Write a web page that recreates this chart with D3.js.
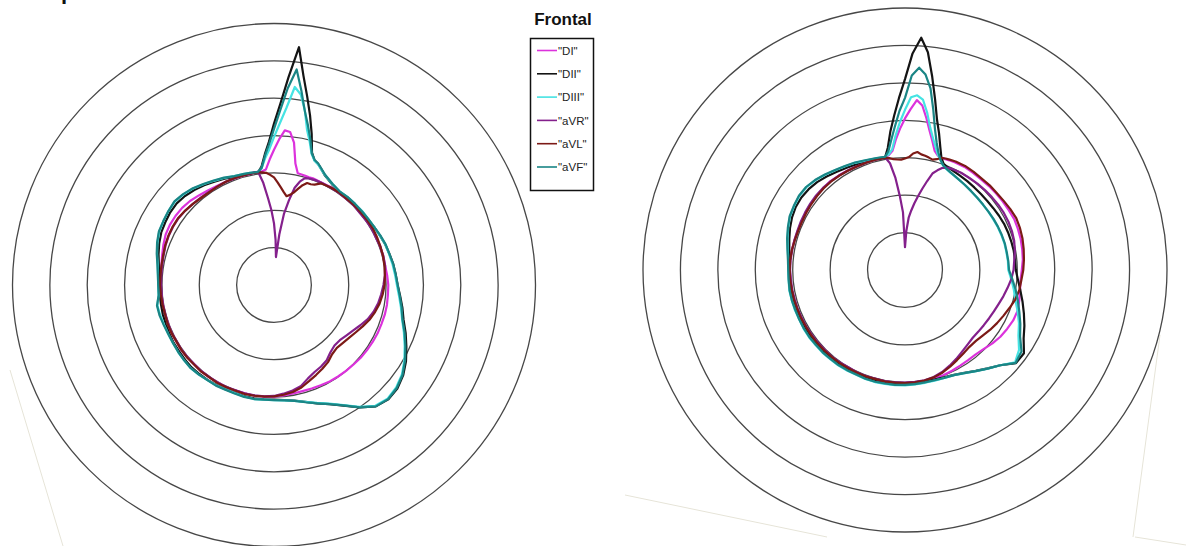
<!DOCTYPE html>
<html>
<head>
<meta charset="utf-8">
<script src="https://cdn.jsdelivr.net/npm/d3@7/dist/d3.min.js"></script>
<style>
  html, body { margin: 0; padding: 0; background: #fff; }
  svg { display: block; }
</style>
</head>
<body>
<svg id="chart" width="1186" height="546"></svg>
<script>
// ---------------- DATA ----------------
// angles in degrees, clockwise from 12 o'clock
const ANGLES = [0,2,4,6,8,10,12,14,16,18,20,22,25,
  30,35,40,45,50,55,60,65,70,75,80,85,90,
  95,100,105,110,115,120,125,130,135,140,145,150,155,160,165,170,175,180,
  185,190,195,200,205,210,215,220,225,230,235,240,245,250,255,260,265,270,
  275,280,285,290,295,300,305,310,315,320,325,330,335,340,345,
  348,350,352,354,356,358];

const RING_TICKS = [1,2,3,4,5,6,7];
const SERIES_NAMES = ['"DI"','"DII"','"DIII"','"aVR"','"aVL"','"aVF"'];
const LEGEND_TITLE = "Frontal";

// ---- left plot ----
const L_DI = [3.62,3.9,4.15,4.12,3.85,3.3,3.06,3.05,3.04,3.03,3.04,3.03,3.02,
  3.03,3.04,3.02,3.03,3.02,3.04,3.03,3.02,3.03,3.02,3.02,3.04,3.06,
  3.06,3.07,3.07,3.06,3.06,3.05,3.04,3.03,3.01,3.0,2.99,2.98,2.96,2.95,2.94,2.95,2.97,2.99,
  3.0,3.01,3.0,3.01,3.02,3.01,3.02,3.02,3.01,3.02,3.03,3.02,3.03,3.02,3.03,3.02,3.03,3.03,
  3.04,3.06,3.1,3.15,3.2,3.22,3.22,3.21,3.18,3.13,3.09,3.06,3.05,3.04,3.04,
  3.04,3.05,3.05,3.06,3.1,3.36];
const L_DII = [4.32,4.85,5.58,6.4,5.66,5.12,4.64,4.17,3.69,3.51,3.45,3.36,3.23,
  3.11,3.05,3.06,3.06,3.07,3.07,3.1,3.13,3.17,3.2,3.24,3.27,3.31,
  3.39,3.49,3.59,3.75,3.91,4.08,4.22,4.31,4.33,4.24,4.0,3.73,3.52,3.37,3.24,3.14,3.09,3.07,
  3.07,3.08,3.08,3.07,3.08,3.09,3.1,3.11,3.12,3.11,3.1,3.1,3.09,3.08,3.08,3.07,3.07,3.07,
  3.09,3.13,3.2,3.27,3.33,3.36,3.39,3.4,3.37,3.32,3.26,3.19,3.14,3.08,3.06,
  3.05,3.05,3.05,3.19,3.51,3.84];
const L_DIII = [3.96,4.32,4.75,5.33,5.15,4.75,4.25,3.95,3.65,3.5,3.44,3.35,3.24,
  3.12,3.06,3.07,3.07,3.08,3.08,3.1,3.13,3.17,3.19,3.22,3.25,3.29,
  3.36,3.45,3.55,3.7,3.86,4.03,4.18,4.27,4.3,4.22,3.98,3.71,3.5,3.36,3.24,3.15,3.1,3.08,
  3.08,3.1,3.09,3.08,3.08,3.1,3.11,3.13,3.15,3.14,3.13,3.12,3.12,3.13,3.15,3.17,3.1,3.1,
  3.12,3.16,3.24,3.32,3.39,3.42,3.45,3.47,3.43,3.37,3.29,3.22,3.16,3.1,3.08,
  3.07,3.06,3.06,3.15,3.4,3.63];
const L_aVR = [1.65,1.21,0.75,1.36,1.93,2.3,2.66,2.85,2.97,3.0,3.01,3.02,3.02,
  3.01,3.02,3.01,3.02,3.0,3.01,3.02,3.01,3.02,3.03,3.02,2.98,2.93,
  2.88,2.83,2.76,2.67,2.55,2.44,2.36,2.3,2.29,2.35,2.46,2.52,2.57,2.66,2.8,2.87,2.92,2.97,
  2.99,3.0,3.01,3.0,3.01,3.02,3.01,3.02,3.01,3.02,3.02,3.01,3.02,3.02,3.01,3.02,3.02,3.02,
  3.03,3.04,3.06,3.09,3.11,3.12,3.12,3.1,3.07,3.05,3.04,3.04,3.05,3.05,3.05,
  3.05,3.06,3.06,2.75,2.34,2.01];
const L_aVL = [2.88,2.75,2.62,2.5,2.4,2.45,2.53,2.65,2.78,2.87,2.87,2.9,3.0,
  3.02,3.03,3.02,3.03,3.03,3.04,3.05,3.04,3.03,3.02,3.0,2.98,2.96,
  2.92,2.87,2.8,2.72,2.62,2.53,2.46,2.41,2.38,2.42,2.52,2.59,2.66,2.74,2.84,2.91,2.95,2.98,
  3.0,3.01,3.02,3.01,3.02,3.03,3.02,3.03,3.02,3.03,3.03,3.02,3.03,3.03,3.02,3.03,3.04,3.05,
  3.05,3.06,3.07,3.1,3.12,3.13,3.13,3.1,3.07,3.04,3.03,3.04,3.05,3.05,3.04,
  3.05,3.05,3.05,3.03,3.01,2.95];
const L_aVF = [4.18,4.67,5.28,5.8,5.26,4.74,4.37,4.02,3.67,3.52,3.46,3.37,3.25,
  3.13,3.06,3.07,3.07,3.07,3.08,3.1,3.14,3.18,3.2,3.24,3.27,3.31,
  3.38,3.47,3.56,3.72,3.88,4.05,4.2,4.29,4.32,4.24,4.0,3.72,3.52,3.37,3.25,3.15,3.1,3.08,
  3.08,3.1,3.1,3.09,3.09,3.11,3.11,3.13,3.15,3.14,3.13,3.12,3.12,3.14,3.17,3.18,3.1,3.1,
  3.12,3.17,3.25,3.33,3.4,3.42,3.45,3.48,3.44,3.38,3.3,3.23,3.17,3.1,3.08,
  3.07,3.06,3.06,3.15,3.47,3.77];

// ---- right plot ----
const R_DI = [4.05,4.3,4.55,4.42,4.1,3.78,3.52,3.28,3.18,3.15,3.15,3.16,3.17,
  3.18,3.17,3.16,3.17,3.18,3.19,3.2,3.22,3.21,3.2,3.18,3.16,3.12,
  3.1,3.12,3.16,3.2,3.19,3.15,3.11,3.05,2.98,2.94,2.94,2.95,2.97,2.99,3.0,3.01,3.01,3.02,
  3.02,3.03,3.02,3.03,3.03,3.02,3.03,3.04,3.03,3.04,3.04,3.05,3.05,3.06,3.06,3.07,3.07,3.08,
  3.08,3.07,3.06,3.05,3.05,3.06,3.07,3.08,3.09,3.1,3.08,3.07,3.06,3.06,3.06,
  3.06,3.06,3.1,3.2,3.5,3.78];
const R_DII = [5.1,5.79,6.22,5.85,5.22,4.63,4.11,3.76,3.42,3.15,3.02,2.98,2.95,
  2.92,2.9,2.88,2.87,2.87,2.88,2.9,2.92,2.93,2.94,2.95,2.95,2.96,
  3.03,3.13,3.25,3.38,3.52,3.66,3.88,3.87,3.6,3.43,3.29,3.17,3.09,3.05,3.03,3.02,3.03,3.04,
  3.05,3.05,3.06,3.06,3.05,3.06,3.07,3.06,3.07,3.08,3.08,3.09,3.09,3.1,3.1,3.1,3.11,3.1,
  3.11,3.14,3.2,3.27,3.33,3.37,3.38,3.36,3.32,3.26,3.2,3.15,3.11,3.09,3.07,
  3.06,3.06,3.3,3.73,4.14,4.6];
const R_DIII = [4.28,4.62,4.68,4.58,4.25,3.87,3.6,3.38,3.2,3.08,2.97,2.92,2.87,
  2.82,2.78,2.75,2.73,2.72,2.72,2.72,2.73,2.74,2.75,2.75,2.76,2.76,
  2.85,2.95,3.05,3.2,3.36,3.5,3.72,3.84,3.6,3.44,3.3,3.18,3.1,3.07,3.06,3.06,3.07,3.08,
  3.09,3.09,3.1,3.1,3.09,3.1,3.11,3.11,3.12,3.12,3.13,3.13,3.12,3.13,3.13,3.14,3.12,3.12,
  3.13,3.18,3.25,3.32,3.39,3.42,3.45,3.44,3.39,3.32,3.25,3.2,3.16,3.11,3.08,
  3.07,3.07,3.12,3.25,3.6,3.95];
const R_aVR = [0.61,1.05,1.4,1.6,1.8,2.0,2.22,2.45,2.69,2.8,2.9,2.95,2.98,
  3.0,3.0,3.01,3.02,3.03,3.04,3.05,3.05,3.04,3.02,2.98,2.93,2.9,
  2.85,2.78,2.72,2.66,2.62,2.59,2.57,2.56,2.56,2.6,2.66,2.74,2.82,2.9,2.96,2.99,3.0,3.01,
  3.01,3.02,3.01,3.02,3.02,3.01,3.02,3.03,3.02,3.03,3.03,3.04,3.04,3.05,3.05,3.06,3.06,3.07,
  3.07,3.06,3.06,3.06,3.07,3.08,3.09,3.1,3.1,3.09,3.08,3.06,3.05,3.05,3.05,
  3.05,3.05,2.88,2.49,1.98,1.54];
const R_aVL = [2.98,3.02,3.12,3.17,3.12,3.1,3.07,3.04,3.08,3.15,3.17,3.18,3.2,
  3.21,3.2,3.19,3.2,3.2,3.22,3.25,3.28,3.27,3.25,3.22,3.19,3.16,
  3.12,3.1,3.05,2.97,2.9,2.84,2.78,2.72,2.68,2.68,2.72,2.78,2.85,2.92,2.97,3.0,3.01,3.02,
  3.02,3.03,3.02,3.03,3.03,3.03,3.04,3.04,3.04,3.05,3.05,3.05,3.06,3.06,3.07,3.07,3.08,3.08,
  3.08,3.07,3.05,3.04,3.04,3.05,3.06,3.07,3.08,3.08,3.07,3.06,3.05,3.05,3.05,
  3.04,3.05,3.02,2.98,2.96,2.95];
const R_aVF = [4.6,5.2,5.42,5.25,4.9,4.35,3.85,3.5,3.25,3.08,2.98,2.93,2.88,
  2.82,2.78,2.75,2.73,2.72,2.72,2.73,2.74,2.75,2.76,2.76,2.77,2.78,
  2.88,3.0,3.12,3.25,3.4,3.55,3.8,3.86,3.6,3.44,3.3,3.18,3.1,3.07,3.05,3.05,3.06,3.07,
  3.08,3.08,3.09,3.09,3.08,3.09,3.1,3.1,3.11,3.11,3.12,3.12,3.12,3.12,3.13,3.13,3.12,3.12,
  3.14,3.19,3.26,3.33,3.4,3.43,3.46,3.45,3.4,3.33,3.26,3.21,3.17,3.12,3.09,
  3.08,3.07,3.2,3.5,3.85,4.25];

const LEFT_SERIES  = [L_DI, L_DII, L_DIII, L_aVR, L_aVL, L_aVF];
const RIGHT_SERIES = [R_DI, R_DII, R_DIII, R_aVR, R_aVL, R_aVF];

// ---------------- DRAWING ----------------
const COLORS = ["#dc32dc", "#141414", "#45e3e3", "#84208c", "#7c1a16", "#1a8585"];
const svg = d3.select("#chart");
svg.append("rect").attr("width", 1186).attr("height", 546).attr("fill", "#fff");

// faint scan edges
const edges = [[[10,370],[63,546]],[[625,495],[827,537]],[[1160,335],[1133,537]],[[1135,537],[1186,545]]];
svg.selectAll("line.edge").data(edges).join("line").attr("class","edge")
  .attr("x1", d => d[0][0]).attr("y1", d => d[0][1])
  .attr("x2", d => d[1][0]).attr("y2", d => d[1][1])
  .attr("stroke", "#e6e4d8").attr("stroke-width", 1);

// cut-off heading glyph at top-left
svg.append("text").attr("x", 61).attr("y", -1).attr("font-family", "Liberation Sans, Arial, sans-serif")
  .attr("font-weight", "bold").attr("font-size", 22).attr("fill", "#111").text("p");

const aScale = d3.scaleLinear().domain([0, 360]).range([0, 2 * Math.PI]);

function drawPlot(cx, cy, rmax, seriesList) {
  const g = svg.append("g").attr("transform", `translate(${cx},${cy})`);
  const rScale = d3.scaleLinear().domain([0, 7]).range([0, rmax]);
  g.selectAll("circle.ring").data(RING_TICKS).join("circle").attr("class", "ring")
    .attr("r", d => rScale(d)).attr("fill", "none")
    .attr("stroke", "#333").attr("stroke-width", 1.3).attr("stroke-opacity", 0.9);
  const line = d3.lineRadial()
    .angle(d => aScale(d[0]))
    .radius(d => rScale(d[1]))
    .curve(d3.curveLinearClosed);
  seriesList.forEach((vals, i) => {
    const pts = ANGLES.map((a, k) => [a, vals[k]]);
    g.append("path").attr("d", line(pts)).attr("fill", "none")
      .attr("stroke", COLORS[i]).attr("stroke-width", 2.2)
      .attr("stroke-linejoin", "round");
  });
}

drawPlot(274, 285, 261.5, LEFT_SERIES);
drawPlot(905, 270, 262, RIGHT_SERIES);

// legend
const lg = svg.append("g");
lg.append("text").attr("x", 563).attr("y", 25).attr("text-anchor", "middle")
  .attr("font-family", "Liberation Sans, Arial, sans-serif").attr("font-weight", "bold")
  .attr("font-size", 17).attr("fill", "#111").text(LEGEND_TITLE);
lg.append("rect").attr("x", 530.5).attr("y", 38.5).attr("width", 63).attr("height", 152)
  .attr("fill", "#fff").attr("stroke", "#111").attr("stroke-width", 1.5);
const ly = d3.scalePoint().domain(SERIES_NAMES).range([50.5, 167]);
SERIES_NAMES.forEach((n, i) => {
  lg.append("line").attr("x1", 537).attr("x2", 557).attr("y1", ly(n)).attr("y2", ly(n))
    .attr("stroke", COLORS[i]).attr("stroke-width", 1.6);
  lg.append("text").attr("x", 558).attr("y", ly(n)).attr("dy", "0.36em")
    .attr("font-family", "Liberation Sans, Arial, sans-serif").attr("font-size", 11.5)
    .attr("fill", "#222").text(n);
});
</script>
</body>
</html>
